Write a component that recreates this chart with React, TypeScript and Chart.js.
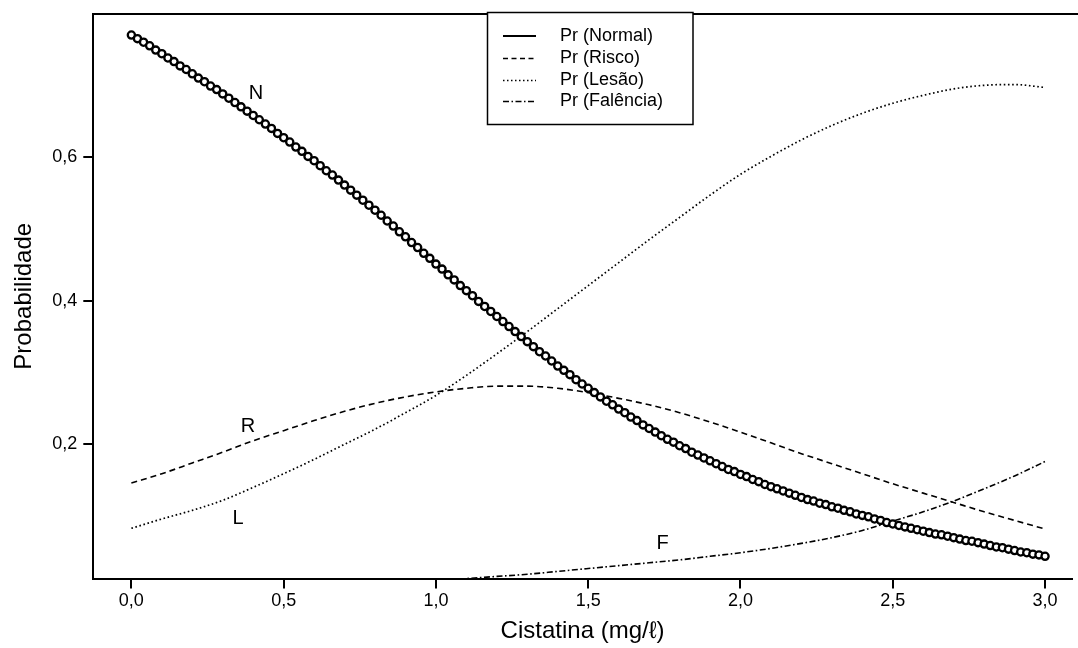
import React, { useEffect, useRef } from 'react';
import { Chart, registerables } from 'chart.js';

Chart.register(...registerables);

// ---- data ----
const xValues = [0.0, 0.1, 0.2, 0.3, 0.4, 0.5, 0.6, 0.7, 0.8, 0.9, 1.0, 1.1, 1.2, 1.3, 1.4, 1.5, 1.6, 1.7, 1.8, 1.9, 2.0, 2.1, 2.2, 2.3, 2.4, 2.5, 2.6, 2.7, 2.8, 2.9, 3.0];

const normalStep = 0.02;
const normalValues = [
  0.770, 0.765, 0.760, 0.755, 0.749, 0.744, 0.738, 0.733, 0.727, 0.722,
  0.716, 0.710, 0.705, 0.699, 0.694, 0.688, 0.682, 0.676, 0.670, 0.664,
  0.658, 0.652, 0.646, 0.640, 0.633, 0.627, 0.621, 0.614, 0.608, 0.601,
  0.595, 0.588, 0.581, 0.575, 0.568, 0.561, 0.554, 0.547, 0.540, 0.533,
  0.526, 0.519, 0.511, 0.504, 0.496, 0.489, 0.481, 0.474, 0.466, 0.459,
  0.451, 0.444, 0.436, 0.429, 0.421, 0.414, 0.407, 0.399, 0.392, 0.385,
  0.378, 0.371, 0.364, 0.357, 0.350, 0.343, 0.336, 0.329, 0.323, 0.316,
  0.309, 0.303, 0.297, 0.290, 0.284, 0.278, 0.272, 0.266, 0.260, 0.255,
  0.249, 0.244, 0.238, 0.233, 0.227, 0.222, 0.217, 0.212, 0.207, 0.203,
  0.198, 0.194, 0.189, 0.185, 0.181, 0.177, 0.173, 0.169, 0.165, 0.162,
  0.158, 0.155, 0.151, 0.148, 0.144, 0.141, 0.138, 0.135, 0.132, 0.129,
  0.126, 0.123, 0.121, 0.118, 0.116, 0.113, 0.111, 0.108, 0.106, 0.103,
  0.101, 0.099, 0.096, 0.094, 0.091, 0.089, 0.087, 0.085, 0.083, 0.081,
  0.079, 0.077, 0.075, 0.074, 0.072, 0.070, 0.068, 0.066, 0.065, 0.063,
  0.061, 0.059, 0.057, 0.056, 0.054, 0.052, 0.050, 0.049, 0.047, 0.046,
  0.044,
];

const riscoValues = [0.146, 0.159, 0.174, 0.189, 0.205, 0.219, 0.233, 0.246, 0.257, 0.266, 0.273, 0.278, 0.281, 0.281, 0.278, 0.272, 0.264, 0.255, 0.244, 0.231, 0.217, 0.202, 0.187, 0.173, 0.159, 0.145, 0.132, 0.119, 0.106, 0.094, 0.082];

const lesaoValues = [0.083, 0.096, 0.108, 0.122, 0.140, 0.159, 0.179, 0.200, 0.221, 0.244, 0.268, 0.296, 0.326, 0.357, 0.389, 0.421, 0.453, 0.485, 0.516, 0.547, 0.576, 0.601, 0.624, 0.644, 0.661, 0.675, 0.686, 0.695, 0.700, 0.701, 0.697];

const falenciaValues = [0.001, 0.001, 0.0015, 0.002, 0.0025, 0.003, 0.004, 0.005, 0.006, 0.008, 0.010, 0.013, 0.016, 0.019, 0.023, 0.027, 0.031, 0.035, 0.039, 0.044, 0.049, 0.055, 0.062, 0.070, 0.080, 0.093, 0.106, 0.121, 0.138, 0.156, 0.176];

const xTicks = [0.0, 0.5, 1.0, 1.5, 2.0, 2.5, 3.0];
const yTicks = [0.2, 0.4, 0.6];

const seriesLabels = ['Pr (Normal)', 'Pr (Risco)', 'Pr (Lesão)', 'Pr (Falência)'];

const curveTags = [
  { text: 'N', x: 0.409, y: 0.689 },
  { text: 'R', x: 0.383, y: 0.2255 },
  { text: 'L', x: 0.350, y: 0.0965 },
  { text: 'F', x: 1.744, y: 0.0625 },
];

const X_TITLE = 'Cistatina (mg/ℓ)';
const Y_TITLE = 'Probabilidade';

// ---- styles ----
const FONT = "'Liberation Sans', Arial, Helvetica, sans-serif";
const dashRisco = [6, 4];
const dashLesao = [1.6, 2.6];
const dashFalencia = [6, 2.5, 1.6, 2.5];
const legendDashes = [[], [5, 3.5], [1.5, 2.5], [6, 2.5, 1.5, 2.5]];

const fmt = (v: number) => v.toFixed(1).replace('.', ',');

const overlayPlugin = {
  id: 'overlay',
  afterDraw(chart: any) {
    const { ctx, chartArea, scales } = chart;
    ctx.save();
    // top frame line
    ctx.strokeStyle = '#000';
    ctx.lineWidth = 2;
    ctx.beginPath();
    ctx.moveTo(chartArea.left - 1, chartArea.top);
    ctx.lineTo(chart.width, chartArea.top);
    ctx.stroke();

    // curve tags
    ctx.fillStyle = '#000';
    ctx.font = `20px ${FONT}`;
    ctx.textAlign = 'center';
    ctx.textBaseline = 'middle';
    curveTags.forEach((t) => {
      ctx.fillText(t.text, scales.x.getPixelForValue(t.x), scales.y.getPixelForValue(t.y));
    });

    // legend box
    const bx = 487.5, by = 12.5, bw = 205.5, bh = 112;
    ctx.fillStyle = '#fff';
    ctx.fillRect(bx, by, bw, bh);
    ctx.lineWidth = 1.5;
    ctx.strokeStyle = '#000';
    ctx.setLineDash([]);
    ctx.strokeRect(bx, by, bw, bh);
    const rows = [36, 58.5, 80.5, 101.5];
    ctx.font = `18px ${FONT}`;
    ctx.textAlign = 'left';
    ctx.fillStyle = '#000';
    seriesLabels.forEach((lab, i) => {
      const y = rows[i];
      ctx.setLineDash(legendDashes[i]);
      ctx.lineWidth = i === 0 ? 2 : 1.6;
      ctx.beginPath();
      ctx.moveTo(503, y);
      ctx.lineTo(536, y);
      ctx.stroke();
      ctx.setLineDash([]);
      ctx.fillText(lab, 560, y);
    });
    ctx.restore();
  },
};

export default function App() {
  const ref = useRef<HTMLCanvasElement | null>(null);

  useEffect(() => {
    if (!ref.current) return;
    const normalData = normalValues.map((v, i) => ({ x: +(i * normalStep).toFixed(2), y: v }));
    const mk = (arr: number[]) => xValues.map((x, i) => ({ x, y: arr[i] }));

    const chart = new Chart(ref.current, {
      type: 'line',
      data: {
        datasets: [
          {
            label: seriesLabels[0],
            data: normalData,
            borderColor: '#000',
            borderWidth: 4,
            pointRadius: 3.6,
            pointBorderWidth: 2.3,
            pointBackgroundColor: '#fff',
            pointBorderColor: '#000',
            pointStyle: 'circle',
            showLine: true,
          },
          {
            label: seriesLabels[1],
            data: mk(riscoValues),
            borderColor: '#000',
            borderWidth: 1.6,
            borderDash: dashRisco,
            pointRadius: 0,
            cubicInterpolationMode: 'monotone',
          },
          {
            label: seriesLabels[2],
            data: mk(lesaoValues),
            borderColor: '#000',
            borderWidth: 1.7,
            borderDash: dashLesao,
            pointRadius: 0,
            cubicInterpolationMode: 'monotone',
          },
          {
            label: seriesLabels[3],
            data: mk(falenciaValues),
            borderColor: '#000',
            borderWidth: 1.6,
            borderDash: dashFalencia,
            pointRadius: 0,
            cubicInterpolationMode: 'monotone',
          },
        ] as any,
      },
      options: {
        responsive: false,
        animation: false,
        devicePixelRatio: 1,
        layout: { padding: { top: 14, right: 0, left: 0, bottom: 0 } },
        plugins: { legend: { display: false }, tooltip: { enabled: false } },
        events: [],
        scales: {
          x: {
            type: 'linear',
            min: -0.125,
            max: 3.0875,
            afterBuildTicks: (axis: any) => {
              axis.ticks = xTicks.map((v) => ({ value: v }));
            },
            afterFit: (s: any) => {
              s.height = 69.5;
              s.paddingRight = 0;
              s.paddingLeft = 0;
            },
            ticks: {
              callback: (v: any) => fmt(Number(v)),
              font: { family: FONT, size: 18 },
              color: '#000',
              padding: 2,
              maxRotation: 0,
              autoSkip: false,
            },
            grid: { drawOnChartArea: false, drawTicks: true, tickLength: 10, color: '#000', lineWidth: 2 },
            border: { display: true, color: '#000', width: 2 },
            title: {
              display: true,
              text: X_TITLE,
              font: { family: FONT, size: 24 },
              color: '#000',
              padding: { top: 0, bottom: 2 },
            },
          },
          y: {
            type: 'linear',
            min: 0.0131,
            max: 0.7993,
            afterBuildTicks: (axis: any) => {
              axis.ticks = yTicks.map((v) => ({ value: v }));
            },
            afterFit: (s: any) => {
              s.width = 93.3;
              s.paddingTop = 0;
              s.paddingBottom = 0;
            },
            ticks: {
              callback: (v: any) => fmt(Number(v)),
              font: { family: FONT, size: 18 },
              color: '#000',
              padding: 6,
            },
            grid: { drawOnChartArea: false, drawTicks: true, tickLength: 10, color: '#000', lineWidth: 2 },
            border: { display: true, color: '#000', width: 2 },
            title: {
              display: true,
              text: Y_TITLE,
              font: { family: FONT, size: 24 },
              color: '#000',
              padding: { top: 10, bottom: 0 },
            },
          },
        },
      } as any,
      plugins: [overlayPlugin],
    });
    return () => chart.destroy();
  }, []);

  return (
    <div style={{ position: 'absolute', left: 0, top: 0, width: 1078, height: 648, background: '#fff' }}>
      <canvas ref={ref} width={1078} height={648} style={{ display: 'block', width: 1078, height: 648 }} />
    </div>
  );
}
